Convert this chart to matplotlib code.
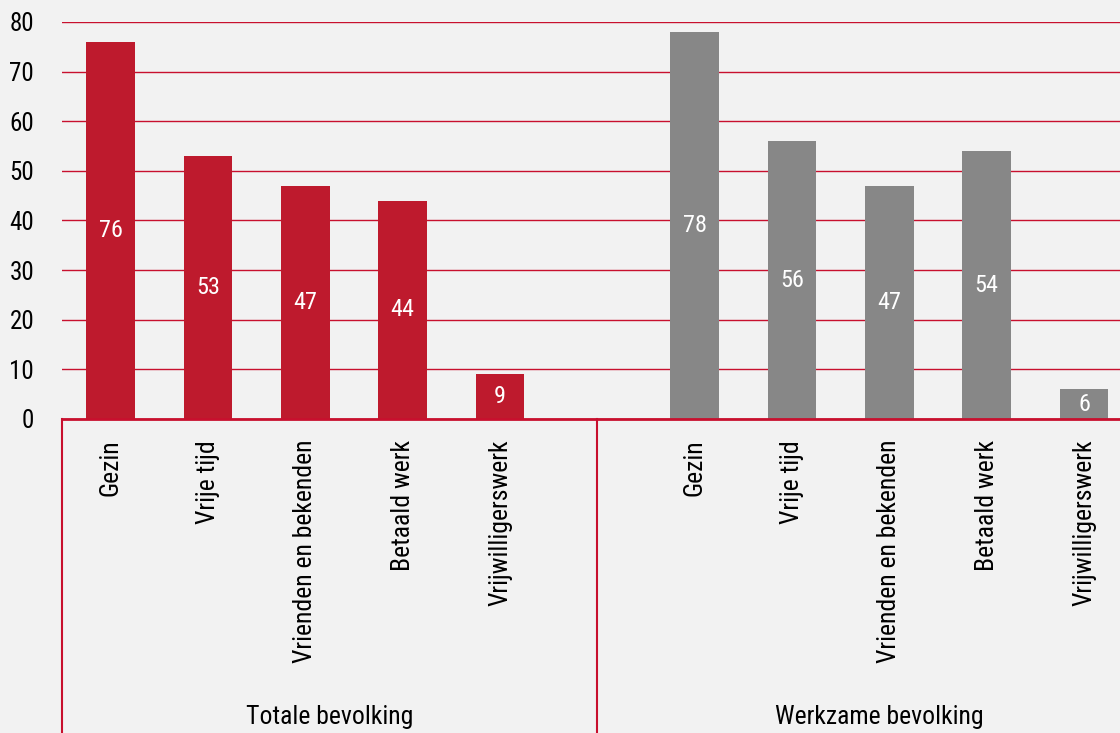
import matplotlib.pyplot as plt
from matplotlib.lines import Line2D

categories = ["Gezin", "Vrije tijd", "Vrienden en bekenden", "Betaald werk", "Vrijwilligerswerk"]
groups = ["Totale bevolking", "Werkzame bevolking"]
totale = [76, 53, 47, 44, 9]
werkzame = [78, 56, 47, 54, 6]

plt.rcParams['font.family'] = ['Roboto Condensed', 'Liberation Sans Narrow', 'DejaVu Sans']

bg = "#f2f2f2"
red = "#be1a2d"
grey = "#878787"
line_red = "#c8102e"

fig = plt.figure(figsize=(11.2, 7.33), dpi=100, facecolor=bg)
ax = fig.add_axes([62 / 1120, 314 / 733, 1 - 62 / 1120, 397 / 733], facecolor=bg)

x_left = list(range(5))
x_right = [i + 6 for i in range(5)]
ax.bar(x_left, totale, width=0.5, color=red, zorder=3)
ax.bar(x_right, werkzame, width=0.5, color=grey, zorder=3)

for xs, vals in [(x_left, totale), (x_right, werkzame)]:
    for x, v in zip(xs, vals):
        ax.text(x, v / 2, str(v), ha="center", va="center", color="white", fontsize=17.5, zorder=4)

ax.set_ylim(0, 80)
ax.set_xlim(-0.5, 10.37)
ax.set_yticks(range(0, 81, 10))
ax.yaxis.grid(True, color=line_red, linewidth=1, zorder=1)
ax.tick_params(axis="y", length=0, labelsize=18, pad=20)
ax.set_xticks(x_left + x_right)
ax.set_xticklabels(categories + categories, rotation=90, fontsize=18.5, va="top")
ax.tick_params(axis="x", length=0, pad=15)
for s in ["top", "right", "left"]:
    ax.spines[s].set_visible(False)
ax.spines["bottom"].set_color(line_red)
ax.spines["bottom"].set_linewidth(2)
ax.spines["bottom"].set_zorder(5)

# scheidingslijnen onder de as
y0 = 314 / 733
for xpix in [62, 597]:
    fig.add_artist(Line2D([xpix / 1120, xpix / 1120], [0, y0], color=line_red, linewidth=1.5))

for label, xc in zip(groups, [2.25, 7.9]):
    ax.text(xc, -60.0, label, ha="center", va="center", fontsize=18.5, clip_on=False)

fig.savefig("out.png", dpi=100, facecolor=bg)
